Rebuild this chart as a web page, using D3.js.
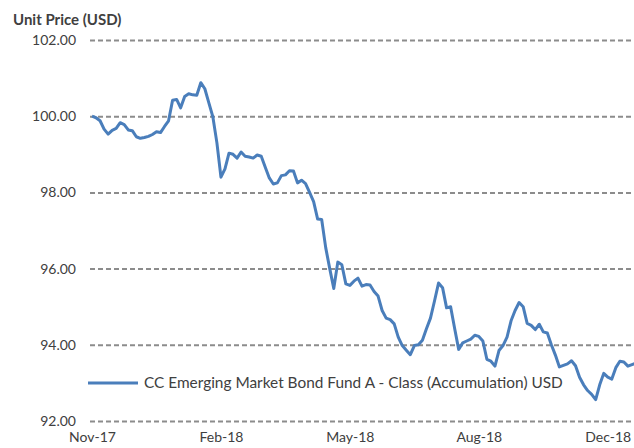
<!DOCTYPE html>
<html>
<head>
<meta charset="utf-8">
<script src="https://cdn.jsdelivr.net/npm/d3@7"></script>
<style>
  html, body { margin: 0; padding: 0; background: #fff; }
  svg { display: block; }
</style>
</head>
<body>
<div id="canvas"></div>
<script>
// unit price, one value per point (category axis, equally spaced)
const prices = [
    100.00, 99.96, 99.88, 99.66, 99.53, 99.63, 99.68, 99.83, 99.78, 99.64,
    99.62, 99.46, 99.42, 99.44, 99.47, 99.52, 99.59, 99.57, 99.73, 99.88,
    100.42, 100.44, 100.22, 100.52, 100.59, 100.56, 100.55, 100.88, 100.72, 100.35,
    99.98, 99.30, 98.40, 98.62, 99.03, 99.00, 98.90, 99.06, 98.95, 98.93,
    98.90, 98.98, 98.95, 98.66, 98.38, 98.22, 98.25, 98.44, 98.46, 98.57,
    98.56, 98.25, 98.32, 98.23, 98.00, 97.76, 97.30, 97.29, 96.55, 96.00,
    95.48, 96.17, 96.10, 95.60, 95.56, 95.67, 95.75, 95.54, 95.58, 95.57,
    95.40, 95.28, 94.90, 94.70, 94.66, 94.55, 94.20, 93.98, 93.86, 93.74,
    93.98, 94.00, 94.12, 94.42, 94.70, 95.15, 95.62, 95.50, 94.97, 95.00,
    94.43, 93.88, 94.05, 94.10, 94.15, 94.25, 94.22, 94.10, 93.62, 93.57,
    93.44, 93.85, 93.98, 94.20, 94.63, 94.90, 95.11, 95.00, 94.56, 94.51,
    94.40, 94.54, 94.34, 94.31, 94.00, 93.73, 93.42, 93.46, 93.50, 93.58,
    93.45, 93.15, 92.95, 92.80, 92.70, 92.56, 92.95, 93.25, 93.15, 93.10,
    93.40, 93.57, 93.55, 93.44, 93.48, 93.52, 93.50
];
const monthLabels = ['Nov-17', 'Feb-18', 'May-18', 'Aug-18', 'Dec-18'];
const labelIndex = [0, 32, 64, 96, 128];
const yTicks = [92, 94, 96, 98, 100, 102];
const seriesName = 'CC Emerging Market Bond Fund A - Class (Accumulation) USD';

const W = 634, H = 448;
const font = 'Lato, "Open Sans", sans-serif';
const textColor = '#404040';
const lineColor = '#4a7ebb';

const svg = d3.select('#canvas').append('svg')
    .attr('width', W)
    .attr('height', H);

const x = d3.scaleLinear()
    .domain([0, prices.length - 1])
    .range([92, 640]);

const y = d3.scaleLinear()
    .domain([92, 102])
    .range([421, 40]);

// title
svg.append('text')
    .attr('x', 13)
    .attr('y', 25)
    .style('font-family', font)
    .style('font-weight', 'bold')
    .style('font-size', '15px')
    .style('fill', textColor)
    .text('Unit Price (USD)');

// y axis: dashed grid + labels
const yAxis = d3.axisLeft(y)
    .tickValues(yTicks)
    .tickSize(-(W - 90))
    .tickPadding(14)
    .tickFormat(d3.format('.2f'));

const gy = svg.append('g')
    .attr('transform', 'translate(90,0)')
    .call(yAxis);
gy.select('.domain').remove();
gy.selectAll('.tick line')
    .attr('stroke', '#8c8c8c')
    .attr('stroke-width', 2)
    .attr('stroke-dasharray', '5,3');
gy.selectAll('.tick text')
    .style('font-family', font)
    .style('font-size', '14px')
    .style('fill', textColor);

// x axis labels
const gx = svg.append('g')
    .attr('transform', 'translate(0,421)')
    .call(d3.axisBottom(x)
        .tickValues(labelIndex)
        .tickSize(0)
        .tickPadding(11)
        .tickFormat((d, i) => monthLabels[i]));
gx.select('.domain').remove();
gx.selectAll('.tick text')
    .style('font-family', font)
    .style('font-size', '14px')
    .style('fill', textColor);

// price line
const line = d3.line()
    .x((d, i) => x(i))
    .y(d => y(d));

svg.append('path')
    .datum(prices)
    .attr('fill', 'none')
    .attr('stroke', lineColor)
    .attr('stroke-width', 3)
    .attr('stroke-linejoin', 'round')
    .attr('d', line);

// legend
const legend = svg.append('g').attr('transform', 'translate(88,383)');
legend.append('line')
    .attr('x1', 0)
    .attr('x2', 50)
    .attr('stroke', lineColor)
    .attr('stroke-width', 3);
legend.append('text')
    .attr('x', 56)
    .attr('dy', '0.35em')
    .style('font-family', font)
    .style('font-size', '15.4px')
    .style('fill', textColor)
    .text(seriesName);
</script>
</body>
</html>
